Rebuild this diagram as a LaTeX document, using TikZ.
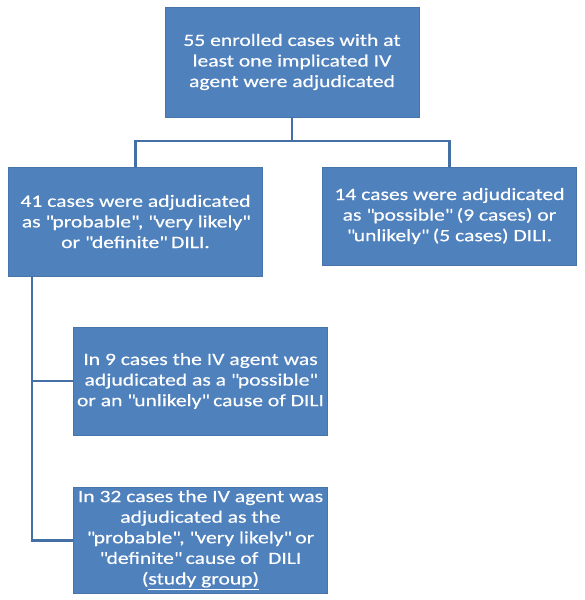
\documentclass[tikz,border=0pt]{standalone}
\usepackage{fontspec}
\setmainfont{Carlito}[FakeStretch=1.25, FakeBold=0.4]
\usepackage{tikz}
\usetikzlibrary{calc}
\definecolor{boxblue}{HTML}{4F81BD}
\definecolor{lineblue}{HTML}{4470A6}
\newcommand{\qt}[1]{\textquotedbl#1\textquotedbl}
\tikzstyle{casebox} = [rectangle, fill=boxblue, draw=boxblue!90!black, line width=0.4pt, text=white, align=center, minimum width=6.72cm, font=\fontsize{13pt}{15.5pt}\selectfont, inner sep=1pt]
\tikzstyle{link} = [draw=lineblue, line width=2.2pt]

\begin{document}
\begin{tikzpicture}

        \useasboundingbox (0, 0) rectangle (15.478, -15.875);

        \node[casebox, minimum height=2.91cm] at (7.726, -1.64) (Enrolled) {55 enrolled cases with at\\least one implicated IV\\agent were adjudicated};
        \node[casebox, minimum height=2.88cm] at (3.585, -5.86) (Probable) {41 cases were adjudicated\\as \qt{probable}, \qt{very likely}\\or \qt{definite} DILI.};
        \node[casebox, minimum height=2.59cm] at (11.893, -5.715) (Possible) {14 cases were adjudicated\\as \qt{possible} (9 cases) or\\\qt{unlikely} (5 cases) DILI.};
        \node[casebox, minimum height=2.86cm] at (5.305, -10.08) (UnlikelyIV) {In 9 cases the IV agent was\\adjudicated as a \qt{possible}\\or an \qt{unlikely} cause of DILI};
        \node[casebox, minimum height=2.8cm] at (5.305, -14.29) (StudyGroup) {In 32 cases the IV agent was\\adjudicated as the\\\qt{probable}, \qt{very likely} or\\\qt{definite} cause of \ DILI\\(\underline{study group)}};

        \coordinate (split) at (7.726, -3.731);
        \coordinate (trunk) at (0.847, -7.3);

        \draw[link] (Enrolled.south) -- (split);
        \draw[link] (Probable.north) -- (Probable.north |- split) -- (Possible.north |- split) -- (Possible.north);

        \draw[link] (trunk |- Probable.south) -- (trunk |- StudyGroup.west) -- (StudyGroup.west);
        \draw[link] (trunk |- UnlikelyIV.west) -- (UnlikelyIV.west);

    \end{tikzpicture}
\end{document}
